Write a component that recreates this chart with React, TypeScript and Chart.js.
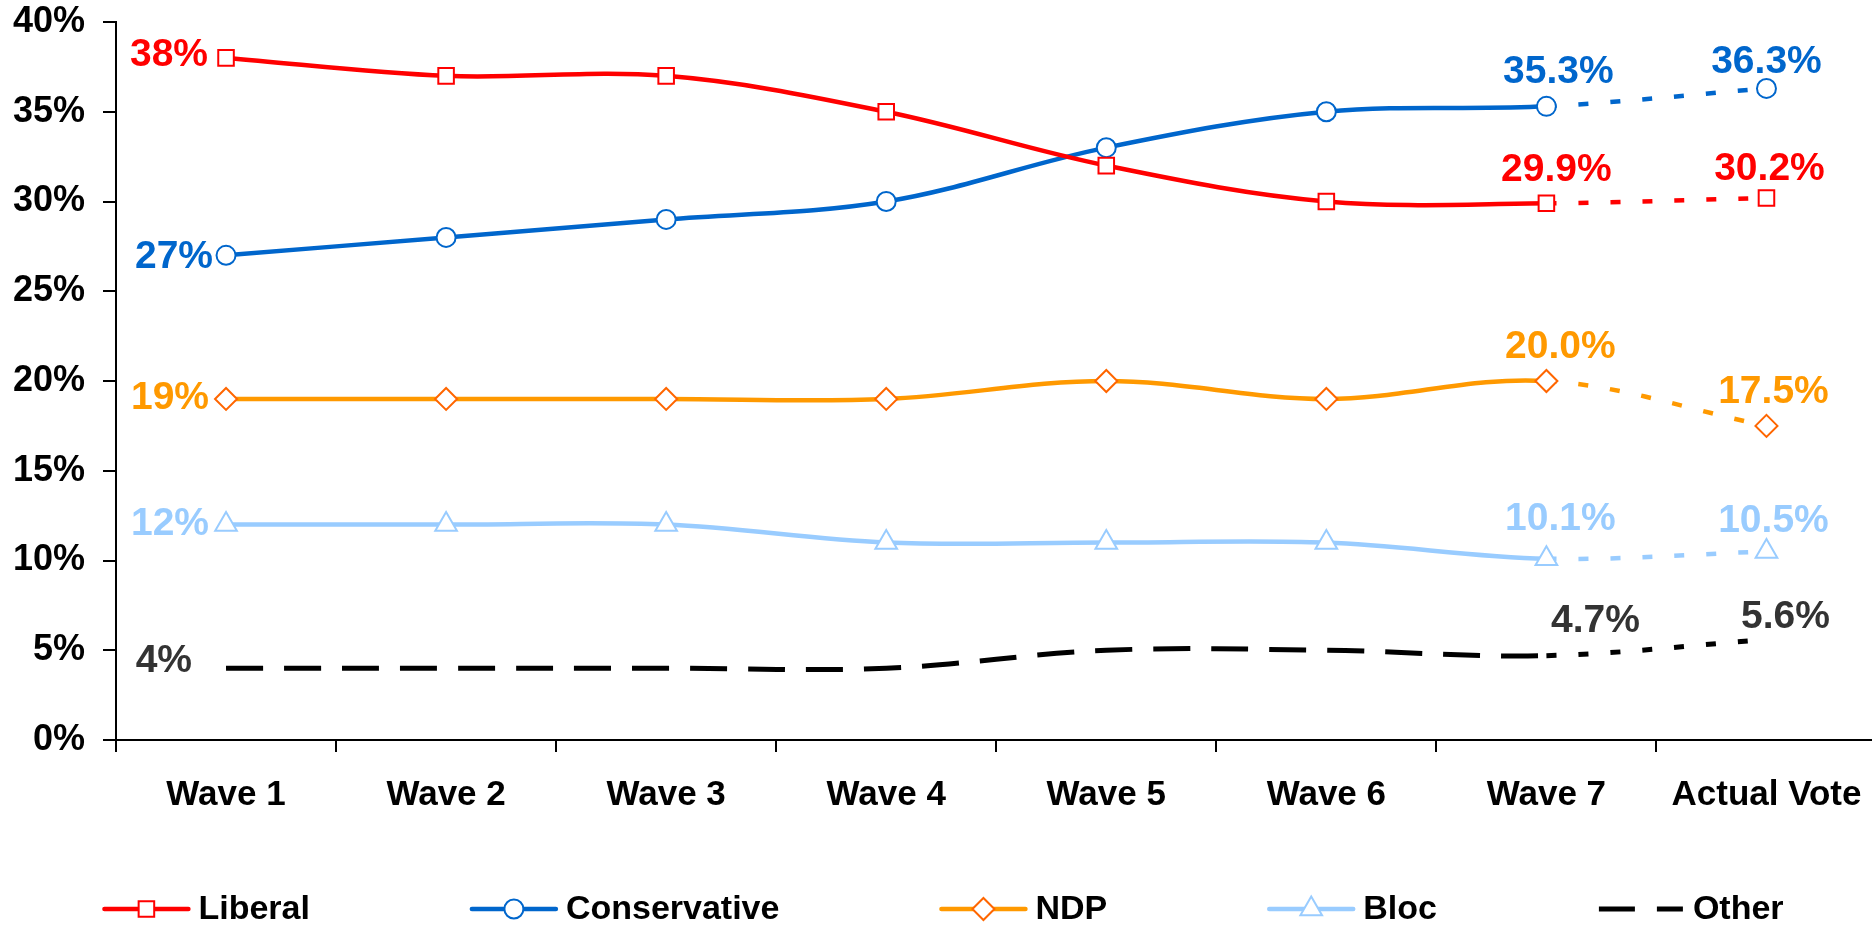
import React, { useEffect, useRef } from 'react';
import { Chart, registerables, PointElement } from 'chart.js';

Chart.register(...registerables);

// ---------- data ----------
const categories = ['Wave 1', 'Wave 2', 'Wave 3', 'Wave 4', 'Wave 5', 'Wave 6', 'Wave 7', 'Actual Vote'];
const seriesNames = ['Liberal', 'Conservative', 'NDP', 'Bloc', 'Other'];
const liberal = [38, 37, 37, 35, 32, 30, 29.9, 30.2];
const conservative = [27, 28, 29, 30, 33, 35, 35.3, 36.3];
const ndp = [19, 19, 19, 19, 20, 19, 20.0, 17.5];
const bloc = [12, 12, 12, 11, 11, 11, 10.1, 10.5];
const other = [4, 4, 4, 4, 5, 5, 4.7, 5.6];
const yMin = 0;
const yMax = 40;
const yStep = 5;

// ---------- styles ----------
const FONT_FAMILY = '"Liberation Sans", Arial, Helvetica, sans-serif';
const X_TICK_SIZE = 35;
const Y_TICK_SIZE = 36;
const LEGEND_FONT = `bold 34px ${FONT_FAMILY}`;
const LABEL_FONT = `bold 39px ${FONT_FAMILY}`;
const CANVAS_W = 1891;
const CANVAS_H = 929;

const lineColors = ['#FF0000', '#0066CC', '#FF9900', '#99CCFF', '#000000'];
const markerBorderColors = ['#FF0000', '#0066CC', '#FF6600', '#99CCFF', '#000000'];
const labelColors = ['#FF0000', '#0066CC', '#FF9900', '#99CCFF', '#333333'];
const pointStyles = ['rect', 'circle', 'rectRot', 'triangle', 'circle'];
const pointRadii = [11, 9.5, 11, 12.5, 0];
const lineWidths = [4.5, 4.5, 4.5, 4.5, 5];
const baseDash: (number[] | undefined)[] = [undefined, undefined, undefined, undefined, [37, 21]];
const lastDash = [10, 22];
const legendDash: (number[] | undefined)[] = [undefined, undefined, undefined, undefined, [36, 22]];

// label offsets: first point (dx, dy middle), wave 7 & actual (dx, baseline dy)
const labelOffsets = [
  { first: [-18, -3], w7: [10, -22], av: [3, -18] },
  { first: [-13, 2], w7: [12, -23], av: [0, -15] },
  { first: [-17, -1], w7: [14, -23], av: [7, -23] },
  { first: [-17, 0], w7: [14, -29], av: [7, -20] },
  { first: [-34, -7], w7: [49, -24], av: [19, -11] },
];

const seriesValues = [liberal, conservative, ndp, bloc, other];

const dataLabelPlugin = {
  id: 'dataLabels',
  afterDatasetsDraw(chart: any) {
    const ctx = chart.ctx;
    ctx.save();
    ctx.font = LABEL_FONT;
    chart.data.datasets.forEach((ds: any, di: number) => {
      const meta = chart.getDatasetMeta(di);
      const off = labelOffsets[di];
      const n = ds.data.length;
      ctx.fillStyle = labelColors[di];
      const p0 = meta.data[0];
      ctx.textAlign = 'right';
      ctx.textBaseline = 'middle';
      ctx.fillText(`${Math.round(ds.data[0])}%`, p0.x + off.first[0], p0.y + off.first[1]);
      ctx.textAlign = 'center';
      ctx.textBaseline = 'alphabetic';
      const pairs: [number, number[]][] = [[n - 2, off.w7], [n - 1, off.av]];
      pairs.forEach(([i, o]) => {
        const p = meta.data[i];
        ctx.fillText(`${Number(ds.data[i]).toFixed(1)}%`, p.x + o[0], p.y + o[1]);
      });
    });
    ctx.restore();
  },
};

const legendPlugin = {
  id: 'lineLegend',
  afterDraw(chart: any) {
    const ctx = chart.ctx;
    ctx.save();
    ctx.font = LEGEND_FONT;
    const lineLen = 84;
    const textGap = 10;
    const itemGap = 162;
    const y = 909;
    const items = chart.data.datasets.map((ds: any) => ({ ds, tw: ctx.measureText(ds.label).width }));
    const total =
      items.reduce((s: number, it: any) => s + lineLen + textGap + it.tw, 0) + itemGap * (items.length - 1);
    let x = 944 - total / 2;
    const bigArea = { left: -1e5, top: -1e5, right: 1e5, bottom: 1e5 };
    items.forEach(({ ds, tw }: any, i: number) => {
      ctx.strokeStyle = lineColors[i];
      ctx.lineWidth = lineWidths[i];
      const dash = legendDash[i];
      ctx.lineCap = dash ? 'butt' : 'round';
      ctx.setLineDash(dash || []);
      ctx.beginPath();
      ctx.moveTo(x, y);
      ctx.lineTo(x + lineLen, y);
      ctx.stroke();
      ctx.setLineDash([]);
      if (pointRadii[i] > 0) {
        const pt: any = new (PointElement as any)({
          x: x + lineLen / 2,
          y,
          options: {
            pointStyle: pointStyles[i],
            radius: pointRadii[i],
            rotation: 0,
            borderWidth: 2,
            borderColor: markerBorderColors[i],
            backgroundColor: '#FFFFFF',
          },
        });
        pt.draw(ctx, bigArea);
      }
      ctx.fillStyle = '#000000';
      ctx.textAlign = 'left';
      ctx.textBaseline = 'middle';
      ctx.fillText(ds.label, x + lineLen + textGap, y + 1);
      x += lineLen + textGap + tw + itemGap;
    });
    ctx.restore();
  },
};

export default function App() {
  const canvasRef = useRef<HTMLCanvasElement | null>(null);

  useEffect(() => {
    if (!canvasRef.current) return;
    Chart.defaults.font.family = FONT_FAMILY;
    const datasets = seriesNames.map((name, i) => ({
      label: name,
      data: seriesValues[i],
      borderColor: lineColors[i],
      backgroundColor: lineColors[i],
      borderWidth: lineWidths[i],
      borderDash: baseDash[i] || [],
      tension: 0.35,
      fill: false,
      pointStyle: pointStyles[i],
      pointRadius: pointRadii[i],
      pointBorderWidth: 2,
      pointBorderColor: markerBorderColors[i],
      pointBackgroundColor: '#FFFFFF',
      pointHoverRadius: pointRadii[i],
      segment: {
        borderDash: (ctx: any) => (ctx.p1DataIndex === categories.length - 1 ? lastDash : baseDash[i] || []),
      },
    }));

    const chart = new Chart(canvasRef.current, {
      type: 'line',
      data: { labels: categories, datasets },
      options: {
        animation: false,
        responsive: false,
        devicePixelRatio: 1,
        events: [],
        layout: { padding: { top: 22, right: 4, bottom: 0, left: 0 } },
        plugins: {
          legend: { display: false },
          tooltip: { enabled: false },
          title: { display: false },
        },
        scales: {
          x: {
            type: 'category',
            offset: true,
            grid: {
              offset: true,
              drawOnChartArea: false,
              drawTicks: true,
              tickLength: 12,
              color: '#000000',
              lineWidth: 2,
            },
            border: { display: true, color: '#000000', width: 2 },
            ticks: {
              color: '#000000',
              font: { family: FONT_FAMILY, size: X_TICK_SIZE, weight: 'bold', lineHeight: 86 / 35 },
              padding: 0,
              maxRotation: 0,
              autoSkip: false,
            },
            afterFit: (scale: any) => {
              scale.height = 189;
              scale.paddingLeft = 0;
              scale.paddingRight = 0;
            },
          },
          y: {
            min: yMin,
            max: yMax,
            grid: {
              drawOnChartArea: false,
              drawTicks: true,
              tickLength: 13,
              color: '#000000',
              lineWidth: 2,
            },
            border: { display: true, color: '#000000', width: 2 },
            ticks: {
              stepSize: yStep,
              color: '#000000',
              font: { family: FONT_FAMILY, size: Y_TICK_SIZE, weight: 'bold' },
              padding: 18,
              callback: (v: any) => `${v}%`,
            },
            afterFit: (scale: any) => {
              scale.width = 116;
              scale.paddingTop = 0;
              scale.paddingBottom = 0;
            },
          },
        },
      },
      plugins: [dataLabelPlugin, legendPlugin],
    });
    return () => chart.destroy();
  }, []);

  return (
    <div
      style={{
        position: 'absolute',
        left: 0,
        top: 0,
        width: 1872,
        height: 929,
        overflow: 'hidden',
        background: '#FFFFFF',
      }}
    >
      <canvas
        ref={canvasRef}
        width={CANVAS_W}
        height={CANVAS_H}
        style={{ display: 'block', width: CANVAS_W, height: CANVAS_H }}
      />
    </div>
  );
}
